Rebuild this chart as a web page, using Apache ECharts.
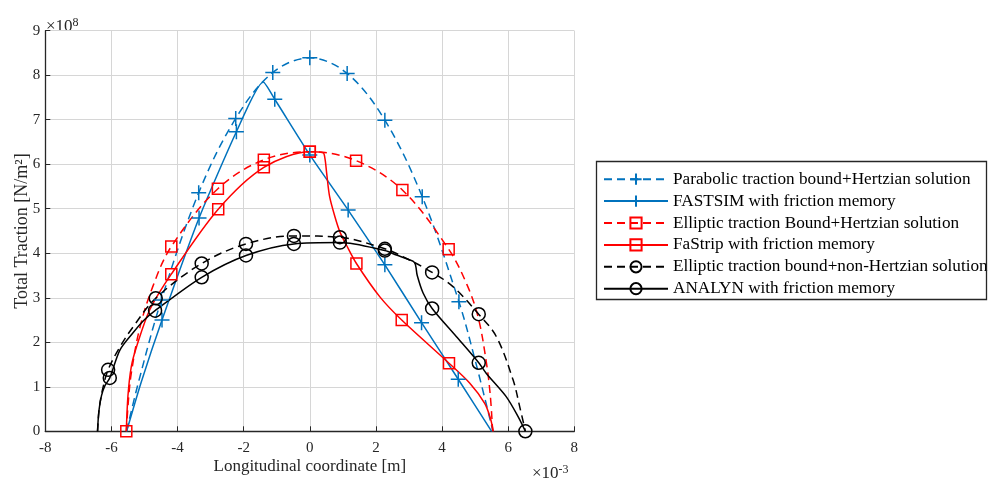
<!DOCTYPE html>
<html><head><meta charset="utf-8">
<script src="https://cdn.jsdelivr.net/npm/echarts@6/dist/echarts.min.js"></script>
<style>html,body{margin:0;padding:0;background:#fff}#c{width:989px;height:478px}</style>
</head><body><div id="c"></div>
<script>
// ---- tick labels ----
const xTicks = [-8, -6, -4, -2, 0, 2, 4, 6, 8];          // x 10^-3 m
const yTicks = [0, 1, 2, 3, 4, 5, 6, 7, 8, 9];           // x 10^8 N/m^2

// ---- series names ----
const names = [
  'Parabolic traction bound+Hertzian solution',
  'FASTSIM with friction memory',
  'Elliptic traction Bound+Hertzian solution',
  'FaStrip with friction memory',
  'Elliptic traction bound+non-Hertzian solution',
  'ANALYN with friction memory'
];

// ---- Parabolic traction bound + Hertzian (blue dashed, +) ----
const parabolicX = [-5.54, -5.2, -4.49, -3.36, -2.24, -1.12, 0, 1.13, 2.27, 3.40, 4.51, 5.0, 5.54];
const parabolicY = [0, 1.05, 2.95, 5.36, 7.03, 8.06, 8.39, 8.04, 6.99, 5.27, 2.91, 1.6, 0];
const parabolicM = [0, 0, 1, 1, 1, 1, 1, 1, 1, 1, 1, 0, 0];

// ---- FASTSIM (blue solid, +) ----
const fastsimX = [-5.54, -5.1, -4.47, -3.35, -2.22, -1.41, -1.06, 0, 1.16, 2.27, 3.38, 4.49, 5.50];
const fastsimY = [0, 1.1, 2.50, 4.79, 6.73, 7.85, 7.46, 6.21, 4.97, 3.74, 2.44, 1.17, 0];
const fastsimM = [0, 0, 1, 1, 1, 0, 1, 1, 1, 1, 1, 1, 0];

// ---- Elliptic traction Bound + Hertzian (red dashed, square) ----
const ellipticX = [-5.55, -5.48, -5.4, -5.15, -4.75, -4.19, -2.78, -1.39, 0, 1.40, 2.80, 4.20, 4.75, 5.09, 5.34, 5.46, 5.53];
const ellipticY = [0, 0.75, 1.3, 2.3, 3.25, 4.15, 5.45, 6.10, 6.28, 6.08, 5.42, 4.09, 3.3, 2.57, 1.55, 0.8, 0];
const ellipticM = [1, 0, 0, 0, 0, 1, 1, 1, 1, 1, 1, 1, 0, 0, 0, 0, 0];

// ---- FaStrip (red solid, square) ----
const fastripX = [-5.55, -5.5, -5.4, -5.24, -4.84, -4.19, -2.77, -1.39, 0, 0.40, 0.46, 0.51, 0.60, 0.76, 0.91, 1.11, 1.41, 2.12, 2.78, 4.21, 4.84, 5.29, 5.46, 5.55];
const fastripY = [0, 0.8, 1.45, 1.9, 2.73, 3.53, 4.99, 5.93, 6.28, 6.26, 6.12, 5.8, 5.27, 4.82, 4.48, 4.18, 3.77, 3.02, 2.50, 1.53, 1.08, 0.63, 0.3, 0];
const fastripM = [0, 0, 0, 0, 0, 1, 1, 1, 1, 0, 0, 0, 0, 0, 0, 0, 1, 0, 1, 1, 0, 0, 0, 0];

// ---- Elliptic traction bound + non-Hertzian (black dashed, circle) ----
const nonHertzX = [-6.42, -6.37, -6.28, -6.1, -5.74, -5.34, -4.66, -3.27, -1.93, -0.48, 0.91, 2.27, 2.72, 3.70, 4.33, 5.11, 5.64, 6.15, 6.35, 6.52];
const nonHertzY = [0, 0.5, 0.9, 1.38, 1.9, 2.35, 2.99, 3.77, 4.21, 4.39, 4.36, 4.10, 3.96, 3.57, 3.25, 2.63, 2.13, 1.15, 0.55, 0];
const nonHertzM = [0, 0, 0, 1, 0, 0, 1, 1, 1, 1, 1, 1, 0, 1, 0, 1, 0, 0, 0, 1];

// ---- ANALYN (black solid, circle) ----
const analynX = [-6.42, -6.38, -6.3, -6.2, -6.05, -5.74, -5.34, -5.04, -4.68, -3.27, -1.93, -0.48, 0.91, 2.27, 2.62, 2.95, 3.17, 3.25, 3.43, 3.70, 4.43, 5.11, 5.34, 5.94, 6.30, 6.52];
const analynY = [0, 0.45, 0.8, 1.02, 1.2, 1.83, 2.22, 2.48, 2.71, 3.46, 3.95, 4.21, 4.24, 4.06, 3.96, 3.87, 3.79, 3.5, 3.10, 2.76, 2.13, 1.54, 1.30, 0.78, 0.33, 0];
const analynM = [0, 0, 0, 0, 1, 0, 0, 0, 1, 1, 1, 1, 1, 1, 0, 0, 0, 0, 0, 1, 0, 1, 0, 0, 0, 0];

const BLUE = '#0072BD', RED = '#FF0000', BLACK = '#000000';
const FONT = 'Liberation Serif';
const PLUS = 'path://M5,0 L5,10 M0,5 L10,5';

function pts(xs, ys, ms) {
  return xs.map((x, i) => ms[i] ? { value: [x, ys[i]] } : { value: [x, ys[i]], symbol: 'none' });
}
function mk(name, xs, ys, ms, color, dashed, symbol, size, smooth) {
  return {
    name, type: 'line', data: pts(xs, ys, ms), smooth: smooth,
    symbol, symbolSize: size, showAllSymbol: true, clip: false,
    lineStyle: { color, width: 1.5, type: dashed ? [8, 5] : 'solid' },
    itemStyle: { color: 'transparent', borderColor: color, borderWidth: 1.5 },
    emphasis: { disabled: true }, animation: false
  };
}

const chart = echarts.init(document.getElementById('c'), null, { renderer: 'canvas' });
const labelColor = '#262626';
chart.setOption({
  animation: false,
  backgroundColor: '#fff',
  grid: { left: 45.3, top: 30.7, width: 529, height: 400.6, containLabel: false, outerBoundsMode: 'none' },
  xAxis: {
    type: 'value', min: xTicks[0], max: xTicks[xTicks.length - 1], interval: xTicks[1] - xTicks[0],
    name: 'Longitudinal coordinate [m]', nameLocation: 'middle', nameGap: 27, nameMoveOverlap: false,
    nameTextStyle: { fontFamily: FONT, fontSize: 17, color: labelColor },
    axisLine: { show: true, onZero: false, lineStyle: { color: labelColor, width: 1.3 } },
    axisTick: { show: true, inside: true, length: 5, lineStyle: { color: labelColor, width: 1 } },
    axisLabel: { fontFamily: FONT, fontSize: 15, color: labelColor, margin: 9 },
    splitLine: { show: true, lineStyle: { color: '#d6d6d6', width: 1 } }
  },
  yAxis: {
    type: 'value', min: yTicks[0], max: yTicks[yTicks.length - 1], interval: yTicks[1] - yTicks[0],
    name: 'Total Traction [N/m²]', nameLocation: 'middle', nameGap: 14, nameRotate: 90, nameMoveOverlap: false,
    nameTextStyle: { fontFamily: FONT, fontSize: 18, color: labelColor },
    axisLine: { show: true, onZero: false, lineStyle: { color: labelColor, width: 1.3 } },
    axisTick: { show: true, inside: true, length: 5, lineStyle: { color: labelColor, width: 1 } },
    axisLabel: { fontFamily: FONT, fontSize: 15, color: labelColor, margin: 5 },
    splitLine: { show: true, lineStyle: { color: '#d6d6d6', width: 1 } }
  },
  legend: {
    orient: 'vertical', left: 603, top: 170.7, padding: 0,
    itemWidth: 64, itemHeight: 14, itemGap: 4.9,
    textStyle: { fontFamily: FONT, fontSize: 17.2, color: '#000' },
    data: names, selectedMode: false
  },
  graphic: [
    { type: 'rect', shape: { x: 596.5, y: 161.5, width: 390, height: 138 }, style: { fill: 'none', stroke: '#262626', lineWidth: 1.3 }, silent: true, z: 100 },
    { type: 'text', x: 46, y: 11, style: { text: '{a|×10}{b|8}', rich: { a: { fontFamily: FONT, fontSize: 17, fill: labelColor, padding: [7, 0, 0, 0] }, b: { fontFamily: FONT, fontSize: 12, fill: labelColor } } }, silent: true },
    { type: 'text', x: 532, y: 458, style: { text: '{a|×10}{b|-3}', rich: { a: { fontFamily: FONT, fontSize: 17, fill: labelColor, padding: [7, 0, 0, 0] }, b: { fontFamily: FONT, fontSize: 12, fill: labelColor } } }, silent: true }
  ],
  series: [
    mk(names[0], parabolicX, parabolicY, parabolicM, BLUE, true, PLUS, 15, 0.35),
    mk(names[1], fastsimX, fastsimY, fastsimM, BLUE, false, PLUS, 15, 0.2),
    mk(names[2], ellipticX, ellipticY, ellipticM, RED, true, 'rect', 11, 0.35),
    mk(names[3], fastripX, fastripY, fastripM, RED, false, 'rect', 11, 0.3),
    mk(names[4], nonHertzX, nonHertzY, nonHertzM, BLACK, true, 'circle', 13, 0.35),
    mk(names[5], analynX, analynY, analynM, BLACK, false, 'circle', 13, 0.3)
  ]
});
</script>
</body></html>
